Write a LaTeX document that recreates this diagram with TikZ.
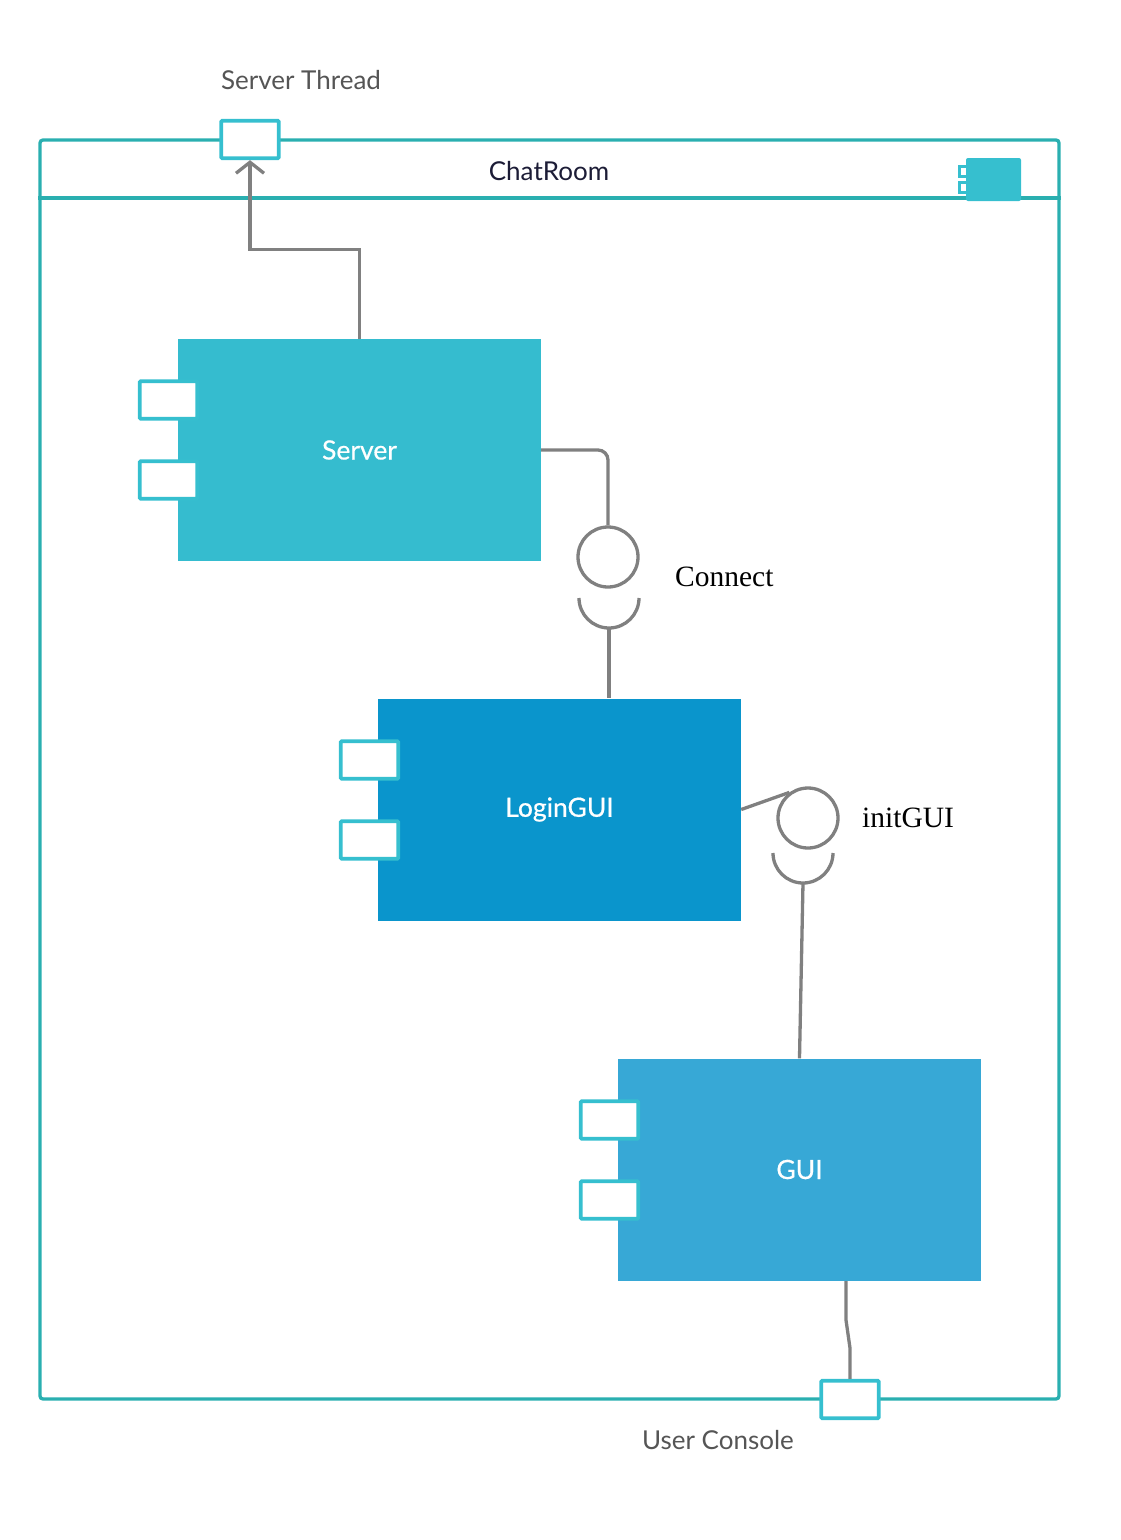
\documentclass[tikz,border=0pt]{standalone}
\usepackage{fontspec}
\setmainfont{Lato}
\newfontfamily\seriffont{Liberation Serif}
\newfontfamily\boldish[FakeBold=0.6]{Lato}
\usetikzlibrary{arrows.meta}
\definecolor{framec}{HTML}{2AAFB0}
\definecolor{portc}{HTML}{36BFCF}
\definecolor{conn}{HTML}{808080}
\definecolor{serverc}{HTML}{35BCCF}
\definecolor{loginc}{HTML}{0A95CC}
\definecolor{guic}{HTML}{37A8D6}
\definecolor{labelc}{HTML}{555555}
\definecolor{titlec}{HTML}{1C1C36}
\begin{document}
\begin{tikzpicture}[x=1pt,y=-1pt,
  comp/.style={draw=none, minimum width=363pt, minimum height=222pt, text=white, font=\boldish\fontsize{26.5}{30}\selectfont, inner sep=0},
  port/.style={draw=portc, line width=3.8pt, fill=white, minimum width=57.5pt, minimum height=37.5pt, inner sep=0, rounded corners=1pt},
  iface/.style={circle, draw=conn, line width=3.3pt, minimum size=60pt, inner sep=0},
  wire/.style={draw=conn, line width=3.3pt},
  lbl/.style={text=labelc, font=\fontsize{26}{30}\selectfont},
  ilbl/.style={font=\seriffont\fontsize{29.5}{34}\selectfont, anchor=west, inner sep=0}]
\useasboundingbox (0,0) rectangle (1120,1540);
% container
\node[draw=framec, line width=3.3pt, rounded corners=3pt, minimum width=1019pt, minimum height=1259pt, inner sep=0] (chatroom) at (549.5,769.5) {};
\draw[framec, line width=3.3pt] (chatroom.west |- 0,198) -- (chatroom.east |- 0,198);
\node[text=titlec, font=\fontsize{26}{30}\selectfont] (title) at (549,171) {ChatRoom};
% component icon
\draw[portc, fill=white, line width=3pt] (959,166) rectangle (975,176);
\draw[portc, fill=white, line width=3pt] (959,182) rectangle (975,192);
\fill[portc, rounded corners=2pt] (966,158) rectangle (1021,201);
% components
\node[comp, fill=serverc] (server) at (359.5,450) {Server};
\node[port] (sp1) at (168.5,400) {};
\node[port] (sp2) at (168.5,480) {};
\node[comp, fill=loginc] (login) at (559.5,809.5) {LoginGUI};
\node[port] (lp1) at (369.5,760) {};
\node[port] (lp2) at (369.5,840) {};
\node[comp, fill=guic] (gui) at (799.5,1169.5) {GUI};
\node[port] (gp1) at (609.5,1120) {};
\node[port] (gp2) at (609.5,1200) {};
% boundary ports
\node[port] (stport) at (250,139.5) {};
\node[lbl] (stlabel) at (301,80) {Server Thread};
\node[port] (ucport) at (850,1399.5) {};
\node[lbl] (uclabel) at (718,1440) {User Console};
% server thread connector
\draw[wire, -{Straight Barb[length=11pt,width=28pt,line width=3.3pt]}] (server.north) -- ++(0,-89) -| (stport.south);
% Connect interface
\node[iface] (c1) at (608,557) {};
\draw[wire, rounded corners=10pt] (server.east) -| (c1.north);
\draw[wire] (579,598) arc[start angle=180, end angle=360, radius=30pt];
\coordinate (s1) at (609,628.5);
\draw[wire] (s1) -- (s1 |- login.north);
\node[ilbl] (connectlbl) at (675,577) {Connect};
% initGUI interface
\node[iface] (c2) at (808,818) {};
\draw[wire] (login.east) -- (c2.126);
\draw[wire] (773,853) arc[start angle=180, end angle=360, radius=30pt];
\coordinate (s2) at (803,883);
\draw[wire] (s2) -- (gui.north);
\node[ilbl] (initlbl) at (862,818) {initGUI};
% user console connector
\coordinate (g1) at (846,1281);
\draw[wire] (g1) -- (846,1320) -- (850,1348) -- (ucport.north);
\end{tikzpicture}
\end{document}
